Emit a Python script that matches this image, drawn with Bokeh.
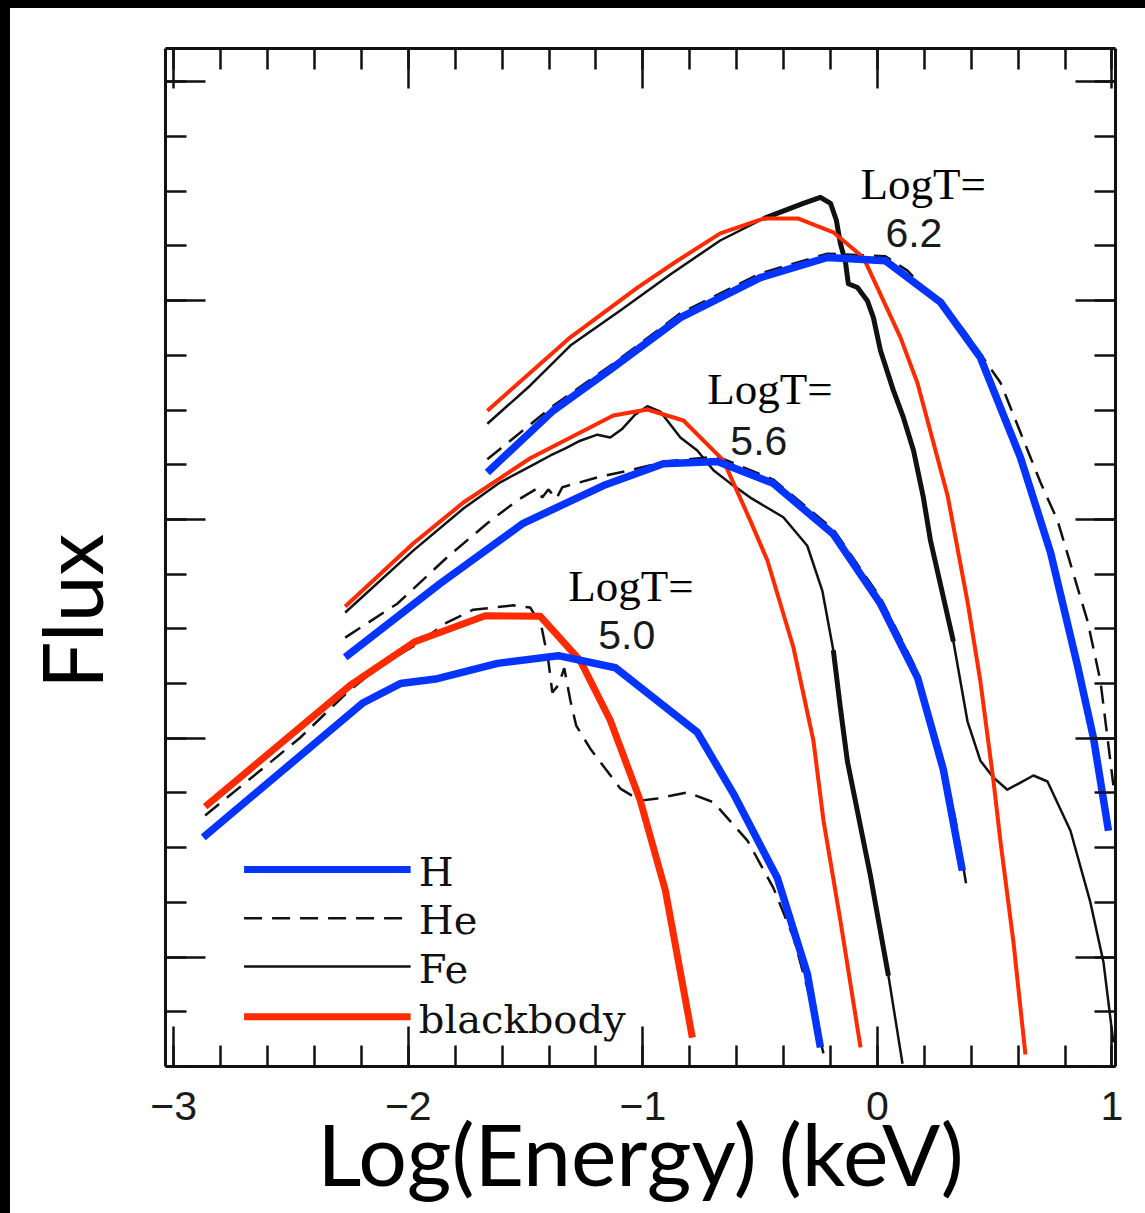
import math

from bokeh.plotting import figure
from bokeh.models import (FixedTicker, LinearAxis, Range1d, Label, Spacer,
                          CustomJSTickFormatter)
from bokeh.layouts import column, row
from bokeh.embed import file_html
from bokeh.resources import INLINE

# ---------------------------------------------------------------------------
# Model spectra: x = log10(E / keV), y = log flux (arbitrary units, one unit
# per minor tick on the flux axis).  Three effective temperatures.
# ---------------------------------------------------------------------------
temps = ["5.0", "5.6", "6.2"]

# LogT = 5.0
bb50_x = [-2.866, -2.247, -1.970, -1.672, -1.437, -1.267, -1.139, -1.011, -0.904, -0.789]
bb50_y = [4.75, 6.97, 7.77, 8.24, 8.23, 7.42, 6.33, 4.86, 3.22, 0.53]

h50_x = [-2.874, -2.192, -2.034, -1.876, -1.620, -1.360, -1.117, -0.768, -0.614, -0.426, -0.299, -0.243]
h50_y = [4.19, 6.65, 7.00, 7.09, 7.37, 7.51, 7.29, 6.11, 4.99, 3.44, 1.70, 0.35]

he50_x = [-2.866, -2.631, -2.461, -2.260, -2.119, -1.979, -1.834, -1.723, -1.552, -1.480,
          -1.433, -1.403, -1.386, -1.360, -1.335, -1.309, -1.284, -1.224, -1.096, -1.011,
          -0.938, -0.810, -0.699, -0.554, -0.444, -0.358, -0.299, -0.230]
he50_y = [4.59, 5.41, 6.01, 6.84, 7.33, 7.68, 8.12, 8.35, 8.43, 8.39,
          8.06, 7.42, 6.84, 6.97, 7.28, 6.69, 6.23, 5.81, 5.08, 4.86,
          4.90, 5.01, 4.83, 4.13, 3.27, 2.36, 1.44, 0.24]

# LogT = 5.6
bb56_x = [-2.269, -1.979, -1.765, -1.480, -1.126, -0.981, -0.827, -0.657, -0.542, -0.469,
          -0.358, -0.273, -0.230, -0.158, -0.072]
bb56_y = [8.41, 9.56, 10.31, 11.12, 11.90, 12.01, 11.81, 11.08, 9.98, 9.25,
          7.66, 5.96, 4.50, 2.67, 0.35]

h56_x = [-2.269, -1.864, -1.510, -1.168, -0.913, -0.682, -0.444, -0.188, 0.013, 0.171, 0.281, 0.362]
h56_y = [7.48, 8.83, 9.93, 10.62, 11.02, 11.06, 10.66, 9.73, 8.46, 7.11, 5.43, 3.58]

he56_x = [-2.269, -2.047, -1.834, -1.663, -1.535, -1.450, -1.429, -1.403, -1.369, -1.343,
          -1.194, -1.053, -0.904, -0.682, -0.444, -0.188, 0.013, 0.171, 0.281, 0.333, 0.380]
he56_y = [7.84, 8.46, 9.31, 9.93, 10.35, 10.57, 10.40, 10.55, 10.38, 10.59,
          10.77, 10.90, 11.06, 11.15, 10.73, 9.82, 8.57, 7.22, 5.54, 4.50, 3.29]

fe56_x = [-2.269, -1.979, -1.765, -1.608, -1.480, -1.394, -1.330, -1.267, -1.194, -1.139,
          -1.087, -1.032, -0.981, -0.925, -0.840, -0.768, -0.699, -0.627, -0.542, -0.401,
          -0.299, -0.235, -0.188, -0.158, -0.128, -0.030, 0.047, 0.107]
fe56_y = [8.30, 9.43, 10.20, 10.68, 10.97, 11.17, 11.30, 11.44, 11.55, 11.50,
          11.66, 11.92, 12.07, 11.97, 11.50, 11.26, 10.90, 10.66, 10.40, 10.04,
          9.52, 8.70, 7.61, 6.56, 5.58, 3.49, 1.66, 0.05]

# LogT = 6.2
bb62_x = [-1.663, -1.309, -1.023, -0.853, -0.670, -0.486, -0.337, -0.188, -0.060, 0.098,
          0.171, 0.299, 0.384, 0.439, 0.495, 0.525, 0.580, 0.631]
bb62_y = [11.99, 13.33, 14.24, 14.73, 15.23, 15.50, 15.50, 15.25, 14.79, 13.33,
          12.49, 10.44, 8.50, 7.04, 5.21, 4.10, 2.27, 0.22]

h62_x = [-1.663, -1.382, -1.126, -0.840, -0.499, -0.213, 0.034, 0.269, 0.439, 0.610,
         0.738, 0.853, 0.921, 0.985]
h62_y = [10.86, 11.99, 12.78, 13.69, 14.42, 14.79, 14.73, 13.97, 12.96, 11.13,
         9.40, 7.33, 6.01, 4.31]

he62_x = [-1.663, -1.522, -1.382, -1.126, -0.840, -0.499, -0.213, 0.034, 0.128, 0.367,
          0.525, 0.695, 0.768, 0.896, 0.951, 1.006]
he62_y = [11.10, 11.59, 12.08, 12.85, 13.77, 14.50, 14.86, 14.81, 14.55, 13.47,
          12.50, 10.68, 9.98, 8.14, 7.04, 5.14]

fe62_x = [-1.663, -1.480, -1.309, -1.096, -0.883, -0.670, -0.486, -0.316, -0.243, -0.200,
          -0.175, -0.158, -0.136, -0.124, -0.085, -0.043, -0.017, 0.013, 0.068, 0.111,
          0.154, 0.196, 0.226, 0.324, 0.384, 0.439, 0.495, 0.554, 0.610, 0.665,
          0.725, 0.823, 0.908, 0.964, 1.006]
fe62_y = [11.75, 12.45, 13.18, 13.82, 14.48, 15.10, 15.50, 15.78, 15.89, 15.78,
          15.47, 15.05, 14.70, 14.31, 14.24, 14.00, 13.69, 13.09, 12.36, 11.86,
          11.26, 10.40, 9.62, 7.77, 6.31, 5.59, 5.28, 5.06, 5.19, 5.32,
          5.21, 4.31, 3.00, 1.90, 0.44]

legend_names = ["H", "He", "Fe", "blackbody"]

# axis ticks
x_major = [-3, -2, -1, 0, 1]
x_minor = [round(-3 + 0.2 * i, 1) for i in range(21)]
y_major = [2, 6, 10, 14, 18]
y_minor = list(range(0, 19))

# ---------------------------------------------------------------------------
BLUE = "#0533FF"
RED = "#FF2A00"
INK = "#111111"

fig = figure(frame_width=950, frame_height=1018,
             x_range=Range1d(-3.035, 1.015), y_range=Range1d(0.0, 18.61),
             output_backend="svg", toolbar_location=None,
             min_border_left=155, min_border_right=30,
             min_border_top=40, min_border_bottom=147,
             background_fill_color="white", border_fill_color="white")
fig.outline_line_color = None
fig.xgrid.visible = False
fig.ygrid.visible = False

fig.add_layout(LinearAxis(), "above")
fig.add_layout(LinearAxis(), "right")

for ax in fig.axis:
    ax.axis_line_width = 3
    ax.axis_line_color = INK
    ax.major_tick_in = 40
    ax.major_tick_out = 0
    ax.minor_tick_in = 21
    ax.minor_tick_out = 0
    ax.major_tick_line_width = 2.5
    ax.minor_tick_line_width = 2.5
    ax.major_tick_line_color = INK
    ax.minor_tick_line_color = INK
    ax.major_label_text_color = None      # tick values only on the energy axis
    ax.major_label_text_font_size = "10px"
    ax.major_label_standoff = 0

for ax in fig.below + fig.above:
    ax.ticker = FixedTicker(ticks=x_major, minor_ticks=x_minor)
for ax in fig.left + fig.right:
    ax.ticker = FixedTicker(ticks=y_major, minor_ticks=y_minor)

bottom = fig.below[0]
bottom.major_label_text_font_size = "41px"
bottom.major_label_text_font = "Liberation Sans"
bottom.major_label_text_color = "#1a1a1a"
bottom.major_label_standoff = 25
bottom.formatter = CustomJSTickFormatter(
    code="return tick < 0 ? '\\u2212' + Math.abs(tick).toFixed(0) : tick.toFixed(0);")
bottom.axis_label = "Log(Energy) (keV)"
bottom.axis_label_text_font = "Lato"
bottom.axis_label_text_font_size = "86px"
bottom.axis_label_text_font_style = "normal"
bottom.axis_label_text_color = "black"
bottom.axis_label_standoff = -22

left = fig.left[0]
left.axis_label = "Flux" + "\u00a0" * 5
left.axis_label_text_font = "Lato"
left.axis_label_text_font_size = "84px"
left.axis_label_text_font_style = "normal"
left.axis_label_text_color = "black"
left.axis_label_standoff = 45

# ---------------------------------------------------------------------------
# curves: He (dashed) and Fe (solid) underneath, then blackbody and H
DASH = "18 10"
for xs, ys in [(he50_x, he50_y), (he56_x, he56_y), (he62_x, he62_y)]:
    fig.line(xs, ys, line_color=INK, line_width=2.5, line_dash=DASH)
for xs, ys in [(fe56_x, fe56_y), (fe62_x, fe62_y)]:
    fig.line(xs, ys, line_color=INK, line_width=2.5, line_join="round")
# heavier stroke where the iron spectra are densely structured
fig.line(fe62_x[6:24], fe62_y[6:24], line_color=INK, line_width=5, line_join="round")
fig.line(fe56_x[22:27], fe56_y[22:27], line_color=INK, line_width=5, line_join="round")

fig.line(bb50_x, bb50_y, line_color=RED, line_width=7, line_join="round")
fig.line(bb56_x, bb56_y, line_color=RED, line_width=4, line_join="round")
fig.line(bb62_x, bb62_y, line_color=RED, line_width=4, line_join="round")

for xs, ys in [(h50_x, h50_y), (h56_x, h56_y), (h62_x, h62_y)]:
    fig.line(xs, ys, line_color=BLUE, line_width=7.5, line_join="round")

# temperature tags
tag_pos = {"5.0": (-1.318, 8.79, -1.190, 7.88),
           "5.6": (-0.725, 12.39, -0.627, 11.44),
           "6.2": (-0.072, 16.14, 0.034, 15.24)}
for t in temps:
    x1, y1, x2, y2 = tag_pos[t]
    fig.add_layout(Label(x=x1, y=y1, text="LogT=", text_font="Liberation Serif",
                         text_font_size="45px", text_color="black",
                         text_baseline="alphabetic"))
    fig.add_layout(Label(x=x2, y=y2, text=t, text_font="Liberation Sans",
                         text_font_size="41px", text_color="#1a1a1a",
                         text_baseline="alphabetic"))

# key
key_style = {
    "H": dict(line_color=BLUE, line_width=7),
    "He": dict(line_color=INK, line_width=2.5, line_dash=DASH),
    "Fe": dict(line_color=INK, line_width=2.5),
    "blackbody": dict(line_color=RED, line_width=7),
}
key_rows = [3.60, 2.71, 1.83, 0.91]
for name, yk in zip(legend_names, key_rows):
    fig.line([-2.70, -1.99], [yk, yk], **key_style[name])
    fig.add_layout(Label(x=-1.955, y=yk - 0.04, text=name, text_font="DejaVu Serif",
                         text_font_size="40px", text_color="#111111",
                         text_baseline="alphabetic"))

# black edge along the top and left of the page
bar_style = {"background-color": "black"}
page = column(Spacer(width=1145, height=8, styles=bar_style),
              row(Spacer(width=10, height=1205, styles=bar_style), fig))

open("out.html", "w").write(file_html(page, INLINE))
